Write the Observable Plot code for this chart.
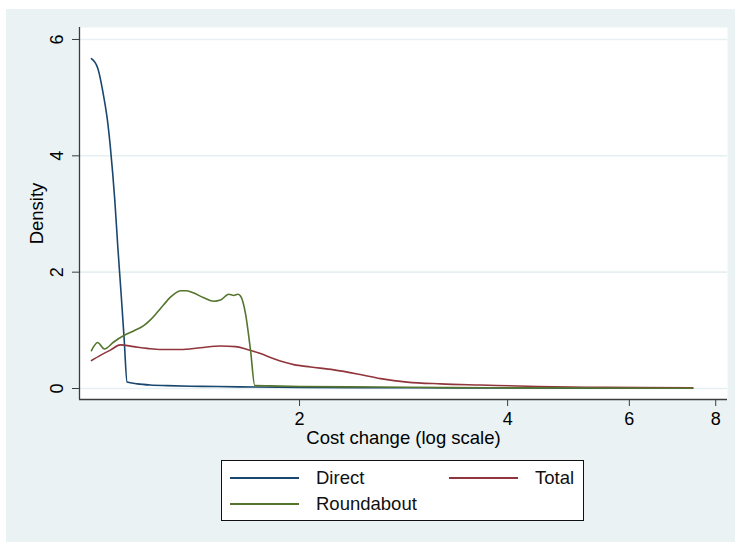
<!DOCTYPE html>
<html>
<head>
<meta charset="utf-8">
<script src="https://cdn.jsdelivr.net/npm/d3@7"></script>
<script src="https://cdn.jsdelivr.net/npm/@observablehq/plot@0.6"></script>
<style>
  html, body { margin: 0; padding: 0; background: #ffffff; }
  #figure { position: relative; width: 735px; height: 542px; overflow: hidden;
            font-family: "Liberation Sans", Arial, Helvetica, sans-serif; }
  #region { position: absolute; left: 6px; top: 9px; width: 729px; height: 533px; background: #EAF2F3; }
  #chart { position: absolute; left: 0; top: 0; }
  #legend { position: absolute; left: 221px; top: 460px; width: 361px; height: 59px;
            background: #ffffff; border: 1px solid #111; }
</style>
</head>
<body>
<div id="figure">
  <div id="region"></div>
  <div id="chart"></div>
  <div id="legend"></div>
</div>
<script>
// Kernel density estimates of the cost change, by route type
const seriesNames = ["Direct", "Total", "Roundabout"];
const seriesColors = ["#1a476f", "#90353b", "#55752f"];

const directX = [1.000, 1.021, 1.042, 1.055, 1.065, 1.081, 1.092, 1.104, 1.115, 1.126, 1.165, 1.217, 1.287, 1.391, 1.520, 1.727, 2.006, 2.451, 2.993, 3.907, 5.453, 7.409];
const directY = [5.67, 5.51, 5.01, 4.60, 4.15, 3.23, 2.42, 1.62, 0.86, 0.11, 0.08, 0.06, 0.05, 0.04, 0.034, 0.025, 0.02, 0.015, 0.012, 0.009, 0.007, 0.005];

const totalX = [1.000, 1.030, 1.065, 1.101, 1.151, 1.204, 1.258, 1.345, 1.438, 1.537, 1.616, 1.680, 1.756, 1.836, 1.962, 2.075, 2.242, 2.424, 2.620, 2.863, 3.200, 3.656, 4.416, 5.508, 7.409];
const totalY = [0.48, 0.57, 0.66, 0.75, 0.72, 0.69, 0.67, 0.67, 0.70, 0.73, 0.72, 0.67, 0.60, 0.51, 0.41, 0.37, 0.32, 0.25, 0.17, 0.11, 0.08, 0.06, 0.034, 0.02, 0.01];

const roundaboutX = [1.000, 1.021, 1.044, 1.077, 1.114, 1.151, 1.190, 1.217, 1.245, 1.272, 1.301, 1.323, 1.345, 1.372, 1.400, 1.454, 1.503, 1.537, 1.580, 1.607, 1.628, 1.643, 1.671, 1.699, 1.723, 1.816, 2.006, 2.559, 3.308, 4.616, 7.409];
const roundaboutY = [0.65, 0.79, 0.68, 0.80, 0.91, 0.99, 1.08, 1.18, 1.31, 1.44, 1.57, 1.64, 1.68, 1.68, 1.65, 1.56, 1.50, 1.52, 1.62, 1.60, 1.62, 1.59, 1.28, 0.65, 0.05, 0.045, 0.035, 0.025, 0.015, 0.01, 0.005];

const xTicks = [2, 4, 6, 8];
const yTicks = [0, 2, 4, 6];
const xTitle = "Cost change (log scale)";
const yTitle = "Density";

// Long-format table for Plot
const seriesData = [[directX, directY], [totalX, totalY], [roundaboutX, roundaboutY]];
const rows = seriesData.flatMap(([xs, ys], i) =>
  xs.map((x, j) => ({series: seriesNames[i], x, y: ys[j]})));

const xDomain = [0.961, 8.32];
const yDomain = [-0.189, 6.206];
const axisColor = "#3c3c3c";
const font = "\"Liberation Sans\", Arial, Helvetica, sans-serif";
const noLabel = () => "";
const centered = {textAnchor: "middle", lineAnchor: "middle"};

const chart = Plot.plot({
  width: 735,
  height: 455,
  marginLeft: 79,
  marginRight: 8,
  marginTop: 27,
  marginBottom: 56,
  style: {background: "transparent", fontFamily: font, fontSize: "18px", color: "#000"},
  x: {type: "log", domain: xDomain, label: null},
  y: {domain: yDomain, label: null},
  color: {domain: seriesNames, range: seriesColors},
  marks: [
    Plot.frame({fill: "#ffffff", stroke: null}),
    Plot.gridY(yTicks, {stroke: "#E6EFF1", strokeOpacity: 1, strokeWidth: 1.6}),
    Plot.line(rows, {x: "x", y: "y", z: "series", stroke: "series", strokeWidth: 1.6, curve: "monotone-x"}),
    Plot.ruleX([xDomain[0]], {stroke: axisColor, strokeWidth: 1.3}),
    Plot.ruleY([yDomain[0]], {stroke: axisColor, strokeWidth: 1.3}),
    Plot.axisX(xTicks, {tickSize: 7, tickFormat: noLabel, label: null, stroke: axisColor}),
    Plot.axisY(yTicks, {tickSize: 7, tickFormat: noLabel, label: null, stroke: axisColor}),
    Plot.text(xTicks, {x: d => d, frameAnchor: "bottom", dy: 20, text: d => String(d), fontSize: 18, ...centered}),
    Plot.text(yTicks, {y: d => d, frameAnchor: "left", dx: -22, rotate: -90, text: d => String(d), fontSize: 18, ...centered}),
    Plot.text([xTitle], {frameAnchor: "bottom", dy: 39, text: d => d, fontSize: 18.5, ...centered}),
    Plot.text([yTitle], {frameAnchor: "left", dx: -42, rotate: -90, text: d => d, fontSize: 18.5, ...centered})
  ]
});
document.getElementById("chart").appendChild(chart);

// Legend: two columns, keys drawn as short lines
const legendOrder = [0, 1, 2];
const legend = d3.select("#legend").append("svg")
  .attr("width", 361).attr("height", 59)
  .style("font-family", font).style("font-size", "18.5px");
const items = legend.selectAll("g").data(legendOrder).join("g")
  .attr("transform", i => `translate(${(i % 2) * 219},${i < 2 ? 17 : 43})`);
items.append("line")
  .attr("x1", 8).attr("x2", 77).attr("y1", 0).attr("y2", 0)
  .attr("stroke", i => seriesColors[i]).attr("stroke-width", 1.8);
items.append("text")
  .attr("x", 94).attr("y", 0).attr("dy", "0.35em")
  .attr("fill", "#111")
  .text(i => seriesNames[i]);
</script>
</body>
</html>
